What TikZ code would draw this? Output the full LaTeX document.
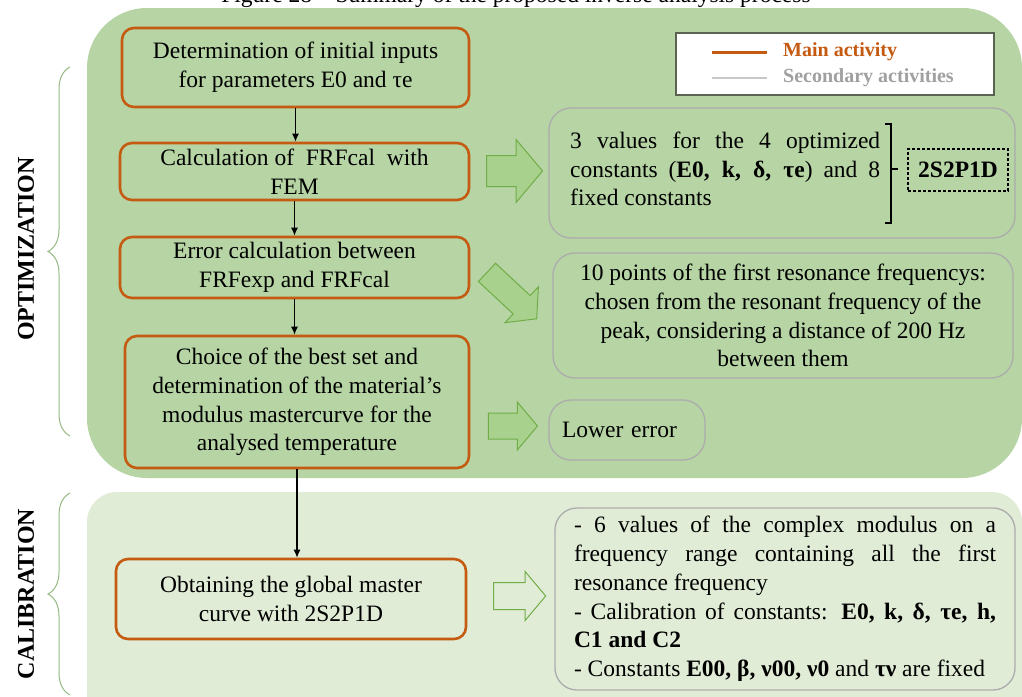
\documentclass[tikz,border=0pt]{standalone}
\usepackage{fontspec}
\setmainfont{Liberation Serif}
\usetikzlibrary{shapes.arrows, decorations.pathreplacing, arrows.meta}

\definecolor{optgreen}{RGB}{182,212,164}
\definecolor{calgreen}{RGB}{224,236,214}
\definecolor{arrowgreen}{RGB}{169,209,142}
\definecolor{edgegreen}{RGB}{112,173,71}
\definecolor{mainorange}{RGB}{197,90,17}
\definecolor{secgray}{RGB}{172,172,172}
\definecolor{keygray}{RGB}{160,160,160}
\definecolor{bracegreen}{RGB}{150,185,130}
\definecolor{legendedge}{RGB}{90,100,80}

\tikzset{
  txt/.style={font=\fontsize{23.5}{28.8}\selectfont},
  mainbox/.style={txt, draw=mainorange, line width=2.6pt, rounded corners=12pt, fill=optgreen, align=center, inner sep=0pt},
  secbox/.style={draw=secgray, line width=1.3pt, rounded corners=22pt, fill=optgreen, inner sep=0pt},
  blockarrow/.style={single arrow, draw=edgegreen, line width=1pt, fill=arrowgreen, inner xsep=0pt, inner ysep=12.5pt, single arrow head extend=11pt, single arrow tip angle=100},
  sidebrace/.style={draw=bracegreen, line width=1pt, decorate, decoration={brace, amplitude=22pt}},
  sidelabel/.style={rotate=90, font=\fontsize{24}{24}\selectfont\bfseries},
}

\begin{document}
\begin{tikzpicture}[x=1pt, y=-1pt, >={Latex[length=8pt, width=7pt]}]
    \useasboundingbox (0,0) rectangle (1022,696);
    \clip (0,0) rectangle (1022,696);

    % Title (cut off)
    \node[txt, anchor=base] (title) at (516,2) {Figure 28 – Summary of the proposed inverse analysis process};

    % Stages
    \fill[optgreen, rounded corners=60pt] (87,8) rectangle (1022,478);
    \fill[calgreen, rounded corners=30pt] (87,492) rectangle (1022,740);

    \draw[sidebrace] (70,436) -- (70,67);
    \draw[sidebrace] (70,695) -- (70,493);
    \node[sidelabel] (optlabel) at (26,249) {OPTIMIZATION};
    \node[sidelabel] (callabel) at (26,594) {CALIBRATION};

    % Legend
    \node[draw=legendedge, line width=1.2pt, fill=white, minimum width=318pt, minimum height=62pt, inner sep=0pt] (legend) at (835,64) {};
    \node[anchor=west, font=\fontsize{20}{20}\selectfont\bfseries, text=mainorange, inner sep=0pt] (mainkey) at (783,52) {Main activity};
    \node[anchor=west, font=\fontsize{20}{20}\selectfont\bfseries, text=keygray, inner sep=0pt] (seckey) at (783,78) {Secondary activities};
    \draw[mainorange, line width=3pt] ([xshift=-71pt]mainkey.west) -- ([xshift=-16pt]mainkey.west);
    \draw[black!22, line width=1.2pt] ([xshift=-71pt]seckey.west) -- ([xshift=-16pt]seckey.west);

    % Main activities
    \node[mainbox, minimum width=347pt, minimum height=79pt] (inputs) at (295.5,67.5) {Determination of initial inputs\\for parameters E0 and τe};
    \node[mainbox, minimum width=349pt, minimum height=57pt] (fem) at (294.5,171.5) {Calculation of~ FRFcal~ with\\FEM};
    \node[mainbox, minimum width=349pt, minimum height=61pt] (error) at (294.5,267.5) {Error calculation between\\FRFexp and FRFcal};
    \node[mainbox, minimum width=344pt, minimum height=132pt] (best) at (297,402) {Choice of the best set and\\determination of the material’s\\modulus mastercurve for the\\analysed temperature};
    \node[mainbox, fill=calgreen, minimum width=350pt, minimum height=80pt] (global) at (291,599) {Obtaining the global master\\curve with 2S2P1D};

    \draw[->, line width=1.3pt] (inputs.south) -- (inputs.south |- fem.north);
    \draw[->, line width=1.3pt] (fem.south) -- (fem.south |- error.north);
    \draw[->, line width=1.3pt] (error.south) -- (error.south |- best.north);
    \draw[->, line width=1.3pt] (best.south) -- (best.south |- global.north);

    % Secondary activities
    \node[blockarrow, minimum height=56pt, inner ysep=15pt, single arrow head extend=16pt] (arrfem) at (508,171) {};
    \node[blockarrow, rotate=-43, minimum height=68pt, inner ysep=12pt, single arrow head extend=12pt] (arrerror) at (508,292) {};
    \node[blockarrow, minimum height=49pt] (arrbest) at (507.5,426) {};
    \node[blockarrow, fill=calgreen, minimum height=52pt, inner ysep=13pt] (arrglobal) at (514,596) {};

    \node[secbox, minimum width=466pt, minimum height=130pt] (constbox) at (782,173) {};
    \node[txt, anchor=west, text width=310pt, align=justify, inner sep=0pt] (consttext) at (570,169)
        {3 values for the 4 optimized\linebreak constants (\textbf{E0, k, δ, τe}) and 8\linebreak fixed constants};
    \draw[line width=1.6pt] (885,124) -- (891,124) -- (891,223) -- (885,223);
    \coordinate (bracemid) at (891,169);
    \draw[line width=1.6pt] (bracemid) -- ++(7,0);
    \node[draw, dash pattern=on 3pt off 2pt, line width=1.1pt, font=\fontsize{23.5}{23.5}\selectfont\bfseries, minimum width=100pt, minimum height=42pt, inner sep=0pt] (model) at (958,170) {2S2P1D};

    \node[secbox, txt, align=center, minimum width=460pt, minimum height=125pt] (freqbox) at (783,315.5)
        {10 points of the first resonance frequencys:\\chosen from the resonant frequency of the\\peak, considering a distance of 200 Hz\\between them};
    \node[secbox, txt, align=left, text width=130pt, inner xsep=13pt, minimum height=60pt] (lowbox) at (627,430) {Lower error};

    \node[secbox, txt, fill=calgreen, text width=422pt, align=justify, inner xsep=19pt, minimum height=182pt] (calbox) at (785,599)
        {- 6 values of the complex modulus on a\linebreak frequency range containing all the first\linebreak resonance frequency\\- Calibration of constants: \textbf{E0, k, δ, τe, h,}\linebreak \textbf{C1 and C2}\\- Constants \textbf{E00, β, ν00, ν0} and \textbf{τν} are fixed};
\end{tikzpicture}
\end{document}
